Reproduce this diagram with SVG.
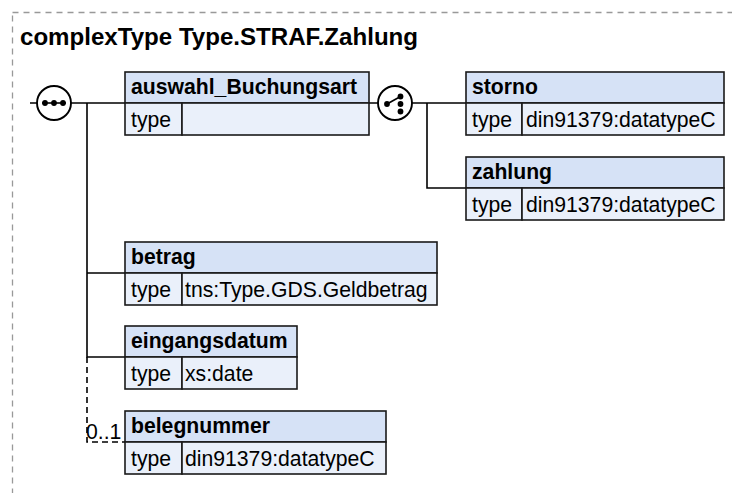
<svg xmlns="http://www.w3.org/2000/svg" width="732" height="493" viewBox="0 0 732 493">
<style>
.hdr{fill:#d6e2f6;stroke:#1a1a1a;stroke-width:1.6}
.row{fill:#eaf0fa;stroke:#1a1a1a;stroke-width:1.6}
.name{font-family:"Liberation Sans",Arial,sans-serif;font-weight:bold;font-size:21.2px;fill:#000}
.txt{font-family:"Liberation Sans",Arial,sans-serif;font-size:21.2px;fill:#000}
.ln{stroke:#000;stroke-width:1.6;fill:none}
.dash{stroke:#000;stroke-width:1.6;fill:none;stroke-dasharray:6 4}
.circ{fill:#fff;stroke:#000;stroke-width:1.9}
</style>
<rect x="12.5" y="12.5" width="730" height="490" fill="none" stroke="#999" stroke-width="1.3" stroke-dasharray="6 5"/>
<text x="20" y="45" font-family="'Liberation Sans',Arial,sans-serif" font-weight="bold" font-size="24.1" fill="#000">complexType Type.STRAF.Zahlung</text>
<g id="connectors">
<path class="ln" d="M30 103H37M71 103H125M87 103V357H125M87 273H125"/>
<path class="dash" d="M87 357V442H125"/>
<path class="ln" d="M369 103H378M412 103H466M427 103V188H466"/>
</g>
<g id="sequence">
<circle class="circ" cx="54" cy="103" r="17"/>
<path class="ln" d="M42 103H66"/>
<circle cx="45" cy="103" r="2.9"/><circle cx="54" cy="103" r="2.9"/><circle cx="63" cy="103" r="2.9"/>
</g>
<g id="choice">
<circle class="circ" cx="395" cy="103" r="17"/>
<path class="ln" d="M387 104L400.5 96.5"/>
<circle cx="387" cy="104" r="2.9"/><circle cx="400.5" cy="96.5" r="2.9"/><circle cx="400.5" cy="104" r="2.9"/><circle cx="400.5" cy="111.5" r="2.9"/>
</g>
<g id="auswahl_Buchungsart">
<rect class="hdr" x="125" y="72" width="244" height="31"/>
<rect class="row" x="125" y="103" width="57" height="32"/>
<rect class="row" x="182" y="103" width="187" height="32"/>
<text class="name" x="131" y="94">auswahl_Buchungsart</text>
<text class="txt" x="131" y="127">type</text>
</g>
<g id="storno">
<rect class="hdr" x="466" y="72" width="258" height="31"/>
<rect class="row" x="466" y="103" width="56" height="32"/>
<rect class="row" x="522" y="103" width="202" height="32"/>
<text class="name" x="472" y="94">storno</text>
<text class="txt" x="472" y="127">type</text>
<text class="txt" x="526" y="127">din91379:datatypeC</text>
</g>
<g id="zahlung">
<rect class="hdr" x="466" y="157" width="258" height="31"/>
<rect class="row" x="466" y="188" width="56" height="32"/>
<rect class="row" x="522" y="188" width="202" height="32"/>
<text class="name" x="472" y="179">zahlung</text>
<text class="txt" x="472" y="212">type</text>
<text class="txt" x="526" y="212">din91379:datatypeC</text>
</g>
<g id="betrag">
<rect class="hdr" x="125" y="242" width="312" height="31"/>
<rect class="row" x="125" y="273" width="57" height="32"/>
<rect class="row" x="182" y="273" width="255" height="32"/>
<text class="name" x="131" y="264">betrag</text>
<text class="txt" x="131" y="297">type</text>
<text class="txt" x="185" y="297">tns:Type.GDS.Geldbetrag</text>
</g>
<g id="eingangsdatum">
<rect class="hdr" x="125" y="326" width="172" height="31"/>
<rect class="row" x="125" y="357" width="57" height="32"/>
<rect class="row" x="182" y="357" width="115" height="32"/>
<text class="name" x="131" y="348">eingangsdatum</text>
<text class="txt" x="131" y="381">type</text>
<text class="txt" x="185" y="381">xs:date</text>
</g>
<g id="belegnummer">
<rect class="hdr" x="125" y="411" width="261" height="31"/>
<rect class="row" x="125" y="442" width="57" height="32"/>
<rect class="row" x="182" y="442" width="204" height="32"/>
<text class="name" x="131" y="433">belegnummer</text>
<text class="txt" x="131" y="466">type</text>
<text class="txt" x="185" y="466">din91379:datatypeC</text>
<text class="txt" x="86" y="439">0..1</text>
</g>
</svg>
